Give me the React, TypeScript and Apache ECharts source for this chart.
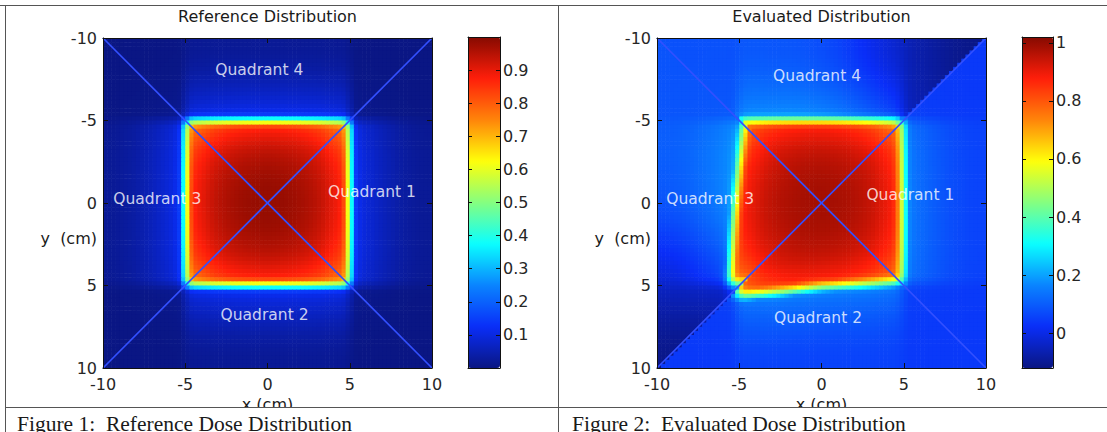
import React, { useEffect, useRef } from 'react';
import * as echarts from 'echarts';

// ---------- texts ----------
const refTitle = 'Reference Distribution';
const evalTitle = 'Evaluated Distribution';
const refCaption = 'Figure 1:  Reference Dose Distribution';
const evalCaption = 'Figure 2:  Evaluated Dose Distribution';
const xName = 'x (cm)';
const yName = 'y  (cm)';

// ---------- ticks ----------
const refColorbarTicks = [0.1, 0.2, 0.3, 0.4, 0.5, 0.6, 0.7, 0.8, 0.9];
const evalColorbarTicks = [0, 0.2, 0.4, 0.6, 0.8, 1];
const refRange = [0, 1];
const evalRange = [-0.12, 1.02];

// jet colour map as it appears in the picture
const jetColors = ['#0a1683', '#0a2ef8', '#0a84ff', '#0affff', '#85ff80', '#ffff0a', '#ff840a', '#ff1e0a', '#850a00'];

// ---------- quadrant labels (cm) ----------
const refQuadrantLabels: [number, number, string][] = [
  [-0.5, -8.06, 'Quadrant 4'],
  [-6.7, -0.24, 'Quadrant 3'],
  [6.35, -0.67, 'Quadrant 1'],
  [-0.18, 6.79, 'Quadrant 2'],
];
const evalQuadrantLabels: [number, number, string][] = [
  [-0.27, -7.7, 'Quadrant 4'],
  [-6.77, -0.24, 'Quadrant 3'],
  [5.4, -0.48, 'Quadrant 1'],
  [-0.21, 6.97, 'Quadrant 2'],
];

// quadrant dividing lines (cm)
const diagonalA = [[-10, -10], [10, 10]];
const diagonalB = [[10, -10], [-10, 10]];

// ---------- dose ----------
// dose across a field edge, read every 0.25 cm, from 4.875 cm outside the edge to 4.875 cm inside
const edgeDepthStart = -4.875;
const edgeDepthStep = 0.25;
const edgeDose = [
  0.020, 0.020, 0.021, 0.023, 0.025, 0.028, 0.031, 0.035, 0.040, 0.046,
  0.052, 0.058, 0.065, 0.072, 0.080, 0.088, 0.097, 0.110, 0.145, 0.380,
  0.620, 0.830, 0.885, 0.900, 0.912, 0.925, 0.938, 0.948, 0.956, 0.963,
  0.969, 0.974, 0.978, 0.982, 0.985, 0.987, 0.989, 0.990, 0.991, 0.992,
];
// reference field: square with edges at +-5 cm
const refFieldHalfWidth = 5;

// evaluated field edges (cm)
const evalLeftEdgeAtY = [-5, -2.5, 0, 2.5, 5];
const evalLeftEdgeX = [-4.72, -4.96, -5.2, -5.41, -5.62];
const evalBottomEdgeAtX = [-5, -2.5, 0, 2.5, 5];
const evalBottomEdgeY = [5.62, 5.35, 5.05, 4.9, 4.75];
const evalRightEdge = 4.9;
const evalTopEdge = -5.0;
const evalDefaultLeft = -5.1;
const evalQ2Left = -5.15;
const evalDefaultBottom = 4.9;
const evalQ1Bottom = 4.85;

// evaluated background dose outside the field, per quadrant
const bgPositions = [-10, -9, -8, -7, -6, -5, -4, -3, -2, -1, 0, 1, 2, 3, 4, 5, 6, 7, 8, 9, 10];
const evalQ4BackgroundByX = [0.08, 0.08, 0.08, 0.08, 0.08, 0.075, 0.075, 0.07, 0.07, 0.065, 0.055, 0.04, 0.015, -0.01, -0.035, -0.055, -0.075, -0.09, -0.105, -0.112, -0.117];
const evalQ3BackgroundByY = [0.085, 0.085, 0.085, 0.085, 0.085, 0.085, 0.085, 0.085, 0.08, 0.075, 0.065, 0.05, 0.025, 0.0, -0.025, -0.045, -0.065, -0.085, -0.1, -0.11, -0.115];
const evalQ1Background = 0.04;
const evalQ2Background = 0.04;

// sampling grid (cell centres, cm)
const cellSize = 0.25;
const cellCentres: number[] = [];
for (let i = 0; i < 80; i++) cellCentres.push(-10 + cellSize / 2 + cellSize * i);

function lookup(xs: number[], ys: number[], x: number) {
  if (x <= xs[0]) return ys[0];
  if (x >= xs[xs.length - 1]) return ys[ys.length - 1];
  let k = 0;
  while (xs[k + 1] < x) k++;
  const f = (x - xs[k]) / (xs[k + 1] - xs[k]);
  return ys[k] * (1 - f) + ys[k + 1] * f;
}

function edgeAt(d: number) {
  const t = (d - edgeDepthStart) / edgeDepthStep;
  if (t <= 0) return edgeDose[0];
  if (t >= edgeDose.length - 1) return edgeDose[edgeDose.length - 1];
  const k = Math.floor(t);
  const f = t - k;
  return edgeDose[k] * (1 - f) + edgeDose[k + 1] * f;
}

function referenceDose(x: number, y: number) {
  return edgeAt(refFieldHalfWidth - Math.abs(x)) * edgeAt(refFieldHalfWidth - Math.abs(y));
}

function evaluatedDose(x: number, y: number) {
  let left = evalDefaultLeft;
  let bottom = evalDefaultBottom;
  let bg: number;
  if (y < -Math.abs(x)) {
    bg = lookup(bgPositions, evalQ4BackgroundByX, x);
  } else if (y > Math.abs(x)) {
    bg = evalQ2Background;
    left = evalQ2Left;
    bottom = lookup(evalBottomEdgeAtX, evalBottomEdgeY, x);
  } else if (x > 0) {
    bg = evalQ1Background;
    bottom = evalQ1Bottom;
  } else {
    bg = lookup(bgPositions, evalQ3BackgroundByY, y);
    left = lookup(evalLeftEdgeAtY, evalLeftEdgeX, y);
  }
  const dx = Math.min(x - left, evalRightEdge - x);
  const dy = Math.min(y - evalTopEdge, bottom - y);
  return bg + (1 - bg) * edgeAt(dx) * edgeAt(dy);
}

function buildCells(fn: (x: number, y: number) => number) {
  const out: number[][] = [];
  for (const y of cellCentres) for (const x of cellCentres) out.push([x, y, fn(x, y)]);
  return out;
}

// ---------- layout ----------
const FONT = 'DejaVu Sans';
const refPlot = { left: 103, top: 38, width: 329, height: 330 };
const refBar = { left: 468, top: 37, width: 32, height: 331 };
const evalPlot = { left: 657, top: 38, width: 329, height: 330 };
const evalBar = { left: 1022, top: 37, width: 31, height: 331 };

const lineColor = '#111';

function mainX(gridIndex: number, position: string, labels: boolean) {
  return {
    type: 'value', gridIndex, position, min: -10, max: 10, interval: 5, z: 5,
    axisLine: { show: true, onZero: false, lineStyle: { color: lineColor, width: 1 } },
    axisTick: { show: true, inside: true, length: 5, lineStyle: { color: lineColor, width: 1 } },
    axisLabel: { show: labels, margin: 8, color: '#262626', fontSize: 16, fontFamily: FONT },
    splitLine: { show: false },
  };
}
function mainY(gridIndex: number, position: string, labels: boolean) {
  return {
    type: 'value', gridIndex, position, min: -10, max: 10, interval: 5, inverse: true, z: 5,
    axisLine: { show: true, onZero: false, lineStyle: { color: lineColor, width: 1 } },
    axisTick: { show: true, inside: true, length: 5, lineStyle: { color: lineColor, width: 1 } },
    axisLabel: { show: labels, margin: 6, color: '#262626', fontSize: 16, fontFamily: FONT },
    splitLine: { show: false },
  };
}
function barX(gridIndex: number, position: string) {
  return {
    type: 'value', gridIndex, position, min: 0, max: 1, z: 5,
    axisLine: { show: true, onZero: false, lineStyle: { color: lineColor, width: 1 } },
    axisTick: { show: false }, axisLabel: { show: false }, splitLine: { show: false },
  };
}
function barY(gridIndex: number, position: string, range: number[], ticks: number[], labels: boolean) {
  return {
    type: 'value', gridIndex, position, min: range[0], max: range[1], z: 5,
    axisLine: { show: true, onZero: false, lineStyle: { color: lineColor, width: 1 } },
    axisTick: { show: true, inside: true, length: 4, customValues: ticks, lineStyle: { color: lineColor } },
    axisLabel: { show: labels, customValues: ticks, margin: 3, color: '#262626', fontSize: 16, fontFamily: FONT, formatter: (v: number) => String(v) },
    splitLine: { show: false },
  };
}

function heatSeries(axisIndex: number, cells: number[][]) {
  return {
    type: 'custom', xAxisIndex: axisIndex, yAxisIndex: axisIndex, data: cells, z: 1, clip: true,
    progressive: 0, silent: true,
    renderItem: (_p: any, api: any) => {
      const x = api.value(0), y = api.value(1);
      const a = api.coord([x - cellSize / 2, y - cellSize / 2]);
      const b = api.coord([x + cellSize / 2, y + cellSize / 2]);
      return {
        type: 'rect',
        shape: { x: Math.min(a[0], b[0]), y: Math.min(a[1], b[1]), width: Math.abs(b[0] - a[0]) + 0.6, height: Math.abs(b[1] - a[1]) + 0.6 },
        style: { fill: api.visual('color') },
      };
    },
  };
}
function diagSeries(axisIndex: number, data: number[][]) {
  return {
    type: 'line', xAxisIndex: axisIndex, yAxisIndex: axisIndex, data, symbol: 'none', silent: true, z: 3,
    lineStyle: { color: '#3350ff', width: 1.7 },
  };
}
function labelSeries(axisIndex: number, labels: [number, number, string][]) {
  return {
    type: 'scatter', xAxisIndex: axisIndex, yAxisIndex: axisIndex, silent: true, z: 4, symbolSize: 1,
    itemStyle: { color: 'rgba(0,0,0,0)' },
    data: labels.map(([x, y, n]) => ({ value: [x, y], name: n })),
    label: { show: true, position: 'inside', formatter: '{b}', color: '#ffffff', fontSize: 15.5, fontFamily: FONT },
  };
}

function txt(x: number, y: number, text: string, align: string, size: number, family: string, z: number) {
  return { type: 'text', x, y, z, silent: true, style: { text, align, verticalAlign: 'middle', fill: '#1a1a1a', font: `${size}px "${family}"` } };
}
function rule(x1: number, y1: number, x2: number, y2: number) {
  return { type: 'line', z: 100, silent: true, shape: { x1, y1, x2, y2 }, style: { stroke: '#555', lineWidth: 1 } };
}

function buildOption() {
  const refCells = buildCells(referenceDose);
  const evalCells = buildCells(evaluatedDose);
  const refCx = refPlot.left + refPlot.width / 2;
  const evalCx = evalPlot.left + evalPlot.width / 2;
  return {
    animation: false,
    backgroundColor: '#ffffff',
    grid: [refPlot, refBar, evalPlot, evalBar].map((g) => ({ ...g, show: false })),
    xAxis: [
      mainX(0, 'bottom', true), mainX(0, 'top', false),
      barX(1, 'bottom'), barX(1, 'top'),
      mainX(2, 'bottom', true), mainX(2, 'top', false),
      barX(3, 'bottom'), barX(3, 'top'),
    ],
    yAxis: [
      mainY(0, 'left', true), mainY(0, 'right', false),
      barY(1, 'left', refRange, refColorbarTicks, false), barY(1, 'right', refRange, refColorbarTicks, true),
      mainY(2, 'left', true), mainY(2, 'right', false),
      barY(3, 'left', evalRange, evalColorbarTicks, false), barY(3, 'right', evalRange, evalColorbarTicks, true),
    ],
    visualMap: [
      {
        type: 'continuous', seriesIndex: 0, dimension: 2, min: refRange[0], max: refRange[1],
        inRange: { color: jetColors }, calculable: false, hoverLink: false, padding: 0,
        left: refBar.left, top: refBar.top, itemWidth: refBar.width, itemHeight: refBar.height, z: 4,
      },
      {
        type: 'continuous', seriesIndex: 4, dimension: 2, min: evalRange[0], max: evalRange[1],
        inRange: { color: jetColors }, calculable: false, hoverLink: false, padding: 0,
        left: evalBar.left, top: evalBar.top, itemWidth: evalBar.width, itemHeight: evalBar.height, z: 4,
      },
    ],
    series: [
      heatSeries(0, refCells),
      diagSeries(0, diagonalA),
      diagSeries(0, diagonalB),
      labelSeries(0, refQuadrantLabels),
      heatSeries(4, evalCells),
      diagSeries(4, diagonalA),
      diagSeries(4, diagonalB),
      labelSeries(4, evalQuadrantLabels),
    ],
    graphic: {
      elements: [
        txt(refCx, 16, refTitle, 'center', 16, FONT, 10),
        txt(evalCx, 16, evalTitle, 'center', 16, FONT, 10),
        txt(97, 238, yName, 'right', 16, FONT, 10),
        txt(651, 238, yName, 'right', 16, FONT, 10),
        txt(refCx, 404, xName, 'center', 16, FONT, 10),
        txt(evalCx, 404, xName, 'center', 16, FONT, 10),
        { type: 'rect', z: 90, silent: true, shape: { x: 0, y: 408, width: 1107, height: 24 }, style: { fill: '#ffffff' } },
        txt(17, 423.5, refCaption, 'left', 21.5, 'Liberation Serif', 101),
        txt(572, 423.5, evalCaption, 'left', 21.5, 'Liberation Serif', 101),
        rule(0, 5.5, 1107, 5.5),
        rule(5.5, 5, 5.5, 432),
        rule(558.5, 5, 558.5, 432),
        rule(5, 407.5, 1107, 407.5),
      ],
    },
  };
}

export default function App() {
  const ref = useRef<HTMLDivElement>(null);
  useEffect(() => {
    if (!ref.current) return;
    const chart = echarts.init(ref.current, null, { renderer: 'svg' });
    chart.setOption(buildOption() as any);
    return () => chart.dispose();
  }, []);
  return <div ref={ref} style={{ position: 'absolute', left: 0, top: 0, width: 1107, height: 432, background: '#fff' }} />;
}
